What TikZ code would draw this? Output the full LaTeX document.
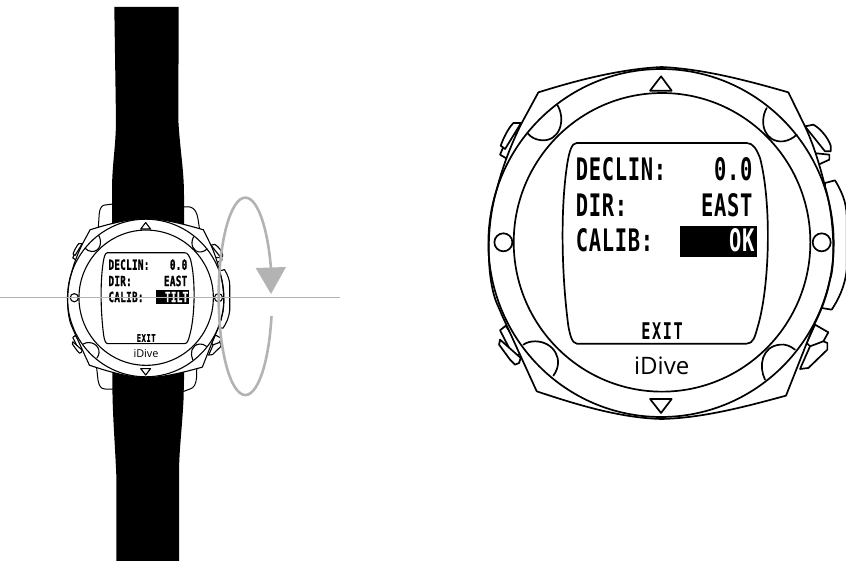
\documentclass[tikz,border=0pt]{standalone}
\usepackage{fontspec}
\setmainfont{Open Sans}
\newfontfamily\lcdfont[FakeStretch=0.66,LetterSpace=2.2]{DejaVu Sans Mono}
\newfontfamily\lcdheavy[FakeStretch=0.66,LetterSpace=2.2,FakeBold=1.2]{DejaVu Sans Mono}
\newfontfamily\lcdexit[FakeStretch=0.66,LetterSpace=7]{DejaVu Sans Mono}
\newfontfamily\lcdexitheavy[FakeStretch=0.66,LetterSpace=7,FakeBold=1.2]{DejaVu Sans Mono}
\definecolor{arrowgrey}{HTML}{B3B3B3}
\tikzset{
  lcdtext/.style={inner sep=0pt,transform shape,text=black},
  wline/.style={draw=black,line join=round,line cap=round},
  brand/.style={font=\fontsize{24}{24}\selectfont,inner sep=0pt,transform shape},
}
% #1 cx, #2 cy, #3 scale, #4 stroke, #5 value, #6 name prefix, #7 box left edge, #8 label left edge, #9 heavy suffix
\newcommand{\watchdial}[9]{%
\begin{scope}[x=1pt,y=-1pt,shift={(#1,#2)},scale=#3]
\begin{scope}[x=.3333pt,y=-.3333pt,shift={(-605,-550)},line width=#4,
  lcdtext/.append style={font=\csname lcd#9\endcsname\bfseries\fontsize{31}{31}\selectfont}]
 % buttons
 \draw[wline,fill=white] (120,285) -- (145,300) -- (175,230) -- (150,215) -- cycle;
 \draw[wline,fill=white] (122,258) .. controls (130,235) and (145,205) .. (160,190) -- (183,190) -- (135,268) -- cycle;
 \draw[wline,fill=white] (1108,285) -- (1108,300) -- (1075,315) -- (1060,280) -- cycle;
 \draw[wline,fill=white] (1035,200) -- (1060,195) .. controls (1080,205) and (1105,235) .. (1112,258) -- (1112,275) -- (1095,275) -- cycle;
 \draw[wline,fill=white] (1095,370) -- (1125,362) .. controls (1145,395) and (1160,430) .. (1160,470) -- (1160,630) .. controls (1155,680) and (1135,720) .. (1115,750) -- (1085,745) -- cycle;
 \draw[wline,fill=white] (120,812) -- (137,798) -- (190,880) -- (160,890) -- cycle;
 \draw[wline,fill=white] (120,840) -- (117,855) -- (150,900) -- (165,915) -- (177,910) -- (182,895) -- cycle;
 \draw[wline,fill=white] (1065,795) -- (1105,818) -- (1090,845) -- (1060,870) -- (1040,850) -- cycle;
 \draw[wline,fill=white] (1090,845) -- (1102,850) -- (1102,870) -- (1045,925) -- (1020,928) -- (1050,860) -- cycle;
 % case
 \draw[wline,fill=white] (235,98) .. controls (350,62) and (480,28) .. (605,22)
   .. controls (730,28) and (860,62) .. (985,98) -- (1030,190)
   .. controls (1060,250) and (1080,320) .. (1095,380)
   .. controls (1125,480) and (1125,620) .. (1110,660)
   .. controls (1100,710) and (1085,750) .. (1060,800)
   -- (978,1008) .. controls (860,1040) and (730,1075) .. (605,1078)
   .. controls (480,1075) and (350,1035) .. (230,995) -- (125,765)
   .. controls (115,740) and (108,730) .. (100,700)
   .. controls (80,620) and (80,490) .. (110,390)
   .. controls (125,330) and (150,260) .. (185,190) -- cycle;
 % bezel rings
 \draw[wline] (603,550) ellipse [x radius=518,y radius=522];
 \draw[wline] (606,548) ellipse [x radius=445,y radius=448];
 % scallops
 \draw[wline] (292,136) .. controls (318,180) and (300,245) .. (245,242) .. controls (225,240) and (212,232) .. (204,222);
 \draw[wline] (920,145) .. controls (895,190) and (915,250) .. (970,245) .. controls (985,243) and (1000,235) .. (1010,225);
 \draw[wline] (190,855) .. controls (200,848) and (212,845) .. (225,845) .. controls (280,845) and (315,900) .. (280,948);
 \draw[wline] (1005,870) .. controls (990,858) and (975,853) .. (960,855) .. controls (905,860) and (895,920) .. (915,960);
 % side screws
 \draw[wline,fill=white] (130,548) circle [radius=27];
 \draw[wline,fill=white] (1085,548) circle [radius=27];
 % triangles
 \draw[wline] (603,50) -- (570,93) -- (635,93) -- cycle;
 \draw[wline] (570,1018) -- (635,1018) -- (603,1060) -- cycle;
 % screen
 \draw[wline] (350,250) -- (860,250) .. controls (880,250) and (890,270) .. (900,295)
   .. controls (935,430) and (930,680) .. (892,805) .. controls (885,830) and (880,852) .. (860,852)
   -- (350,852) .. controls (335,850) and (330,825) .. (325,800)
   .. controls (305,650) and (300,450) .. (322,310) .. controls (328,275) and (335,250) .. (350,250) -- cycle;
 % texts
 \node[lcdtext,anchor=base west] (#6decl) at (#8,363) {DECLIN:};
 \node[lcdtext,anchor=base east] (#6declv) at (880,363) {0.0};
 \node[lcdtext,anchor=base west] (#6dir) at (#8,471) {DIR:};
 \node[lcdtext,anchor=base east] (#6dirv) at (880,471) {EAST};
 \node[lcdtext,anchor=base west] (#6cal) at (#8,577) {CALIB:};
 \fill[black] (#7,500) rectangle (890,593);
 \node[lcdtext,anchor=base east,text=white] (#6calv) at (886,577) {#5};
 \node[lcdtext,anchor=base,font=\csname lcdexit#9\endcsname\bfseries\fontsize{23}{23}\selectfont] (#6exit) at (606,840) {EXIT};
 \node[brand,anchor=base] (#6brand) at (605,946) {iDive};
\end{scope}
\end{scope}}
\expandafter\let\csname lcd\endcsname\lcdfont
\begin{document}
\begin{tikzpicture}[x=1pt,y=-1pt]
\useasboundingbox (0,0) rectangle (846,561);
% lugs
\draw[wline,line width=1pt] (98,232) -- (99.3,213) .. controls (100,208) and (102,205) .. (105,205) -- (113,204);
\draw[wline,line width=1pt] (183,207) -- (190,207) .. controls (195,208) and (197,213) .. (198,219) -- (200,232);
\draw[wline,line width=1pt] (96,362) -- (98,380) .. controls (99,386) and (101,389) .. (105,389) -- (113,389);
\draw[wline,line width=1pt] (182,392) -- (190,389) .. controls (194,388) and (196,384) .. (196.5,378) -- (197,362);
% strap
\fill[black] (114.3,7) -- (178.7,7) -- (178.3,120) .. controls (180,150) and (184,170) .. (184,195) -- (184,380)
  -- (183.5,400) .. controls (182,430) and (179,450) .. (179,475) -- (179,561) -- (116.3,561) -- (116.3,475)
  .. controls (115,445) and (113,420) .. (112.5,395) -- (112,190) .. controls (112,165) and (116,145) .. (116,120) -- cycle;
% small watch
\watchdial{146}{298}{.453}{1.1pt}{TILT}{s}{670}{355}{heavy}
% big watch
\watchdial{661.7}{243}{1}{1.7pt}{OK}{b}{660}{345}{}
% axis
\draw[arrowgrey,line width=.9pt] (0,297) -- (340,297);
% rotation arrow
\draw[arrowgrey,line width=2.6pt] (271.5,316) arc [start angle=11.5,end angle=344,x radius=26.7,y radius=98.7];
\fill[arrowgrey] (255.7,268) -- (286,267) -- (271,294) -- cycle;
\end{tikzpicture}
\end{document}
